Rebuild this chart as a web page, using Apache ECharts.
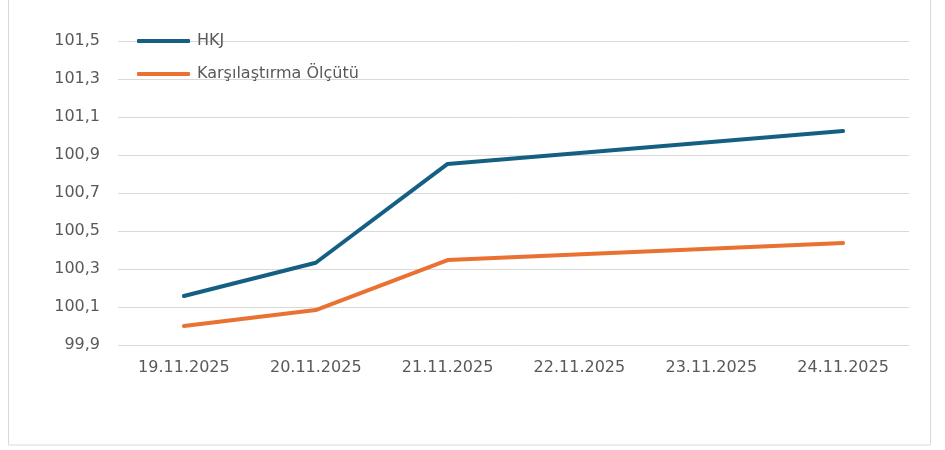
<!DOCTYPE html>
<html>
<head>
<meta charset="utf-8">
<script src="https://cdn.jsdelivr.net/npm/echarts@6/dist/echarts.min.js"></script>
<style>
  html, body { margin: 0; padding: 0; background: #fff; }
  #chart { width: 945px; height: 450px; }
</style>
</head>
<body>
<div id="chart"></div>
<script>
const categories = ['19.11.2025', '20.11.2025', '21.11.2025', '22.11.2025', '23.11.2025', '24.11.2025'];
// 22 and 23 Nov have no value, the line is joined across them
const hkj = [100.158, 100.333, 100.853, null, null, 101.026];
const benchmark = [100.0, 100.084, 100.347, null, null, 100.437];

const chart = echarts.init(document.getElementById('chart'));

const option = {
  animation: false,
  textStyle: { fontFamily: 'DejaVu Sans' },
  graphic: [{
    type: 'rect',
    shape: { x: 8.5, y: -1, width: 922, height: 446 },
    style: { fill: 'none', stroke: '#d9d9d9', lineWidth: 1 }
  }],
  legend: {
    orient: 'vertical',
    left: 132,
    top: 28,
    itemWidth: 53,
    itemHeight: 4,
    itemGap: 17,
    icon: 'roundRect',
    textStyle: { color: '#595959', fontSize: 16, padding: [0, 0, 0, 2] },
    data: ['HKJ', 'Karşılaştırma Ölçütü']
  },
  grid: {
    left: 118,
    right: 36,
    top: 41,
    bottom: 105
  },
  xAxis: {
    type: 'category',
    data: categories,
    boundaryGap: true,
    axisLine: { show: false },
    axisTick: { show: false },
    axisLabel: { color: '#595959', fontSize: 16, margin: 15 }
  },
  yAxis: {
    type: 'value',
    min: 99.9,
    max: 101.5,
    interval: 0.2,
    axisLine: { show: false },
    axisTick: { show: false },
    splitLine: { lineStyle: { color: '#d9d9d9', width: 1 } },
    axisLabel: {
      color: '#595959',
      fontSize: 16,
      margin: 18,
      formatter: v => v.toFixed(1).replace('.', ',')
    }
  },
  series: [
    {
      name: 'HKJ',
      type: 'line',
      data: hkj,
      connectNulls: true,
      showSymbol: false,
      lineStyle: { color: '#156082', width: 4, cap: 'round', join: 'round' },
      itemStyle: { color: '#156082' }
    },
    {
      name: 'Karşılaştırma Ölçütü',
      type: 'line',
      data: benchmark,
      connectNulls: true,
      showSymbol: false,
      lineStyle: { color: '#e97132', width: 4, cap: 'round', join: 'round' },
      itemStyle: { color: '#e97132' }
    }
  ]
};

chart.setOption(option);

window.addEventListener('resize', () => {
  chart.resize();
});
</script>
</body>
</html>
